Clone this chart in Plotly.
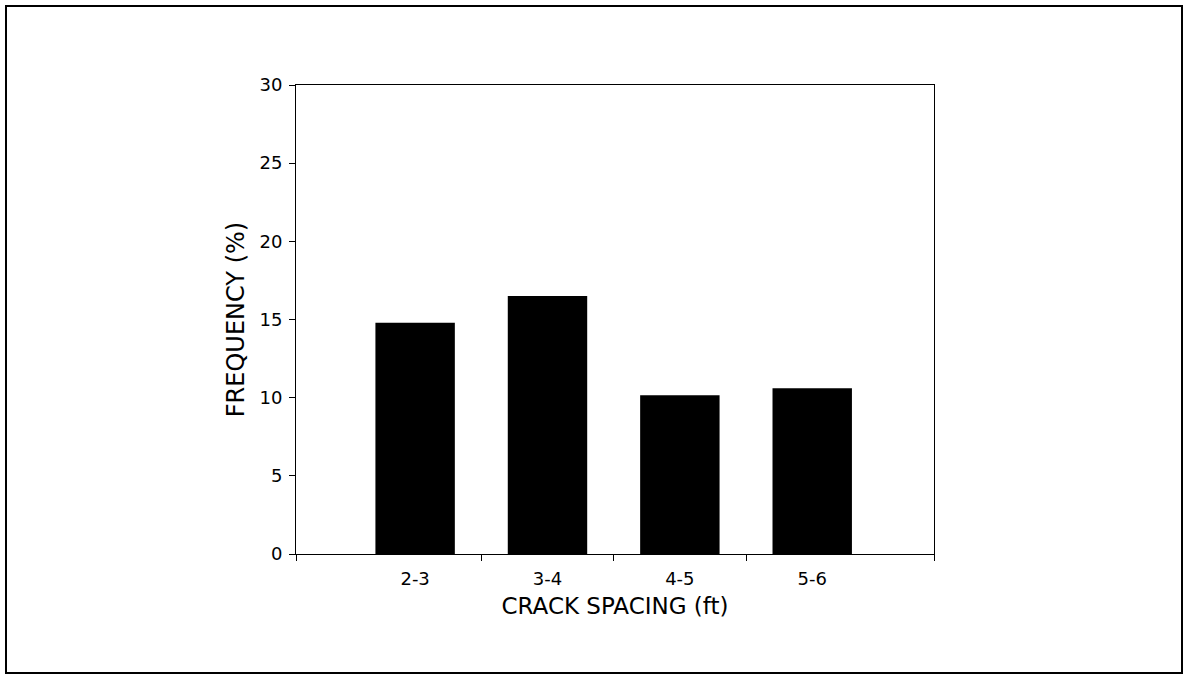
import plotly.graph_objects as go

# Datos
categorias = ["2-3", "3-4", "4-5", "5-6"]
frecuencia = [14.8, 16.5, 10.15, 10.6]
y_ticks = [0, 5, 10, 15, 20, 25, 30]

W, H = 1183, 675
L, R, T, B = 296, 934, 85, 554  # area del grafico en pixeles


def px_to_paper(x, y):
    return (x - L) / (R - L), (B - y) / (B - T)


def main():
    pos = list(range(len(categorias)))
    x_min, x_max = -0.9, 3.92
    bordes = [i + 0.5 for i in pos[:-1]]

    fig = go.Figure(
        go.Bar(
            x=pos,
            y=frecuencia,
            width=0.6,
            marker=dict(color="black", line=dict(color="black", width=0)),
        )
    )

    fig.update_layout(
        width=W,
        height=H,
        margin=dict(l=L, r=W - R, t=T, b=H - B, pad=0),
        paper_bgcolor="white",
        plot_bgcolor="white",
        showlegend=False,
        font=dict(family="DejaVu Sans, sans-serif", color="black", size=18),
    )

    fig.update_xaxes(
        range=[x_min, x_max],
        tickvals=pos,
        ticktext=categorias,
        ticks="",
        ticklabelstandoff=8,
        showgrid=False,
        zeroline=False,
        showline=True,
        linecolor="black",
        linewidth=1,
        mirror=True,
        tickfont=dict(size=18),
        minor=dict(
            tickvals=[x_min] + bordes + [x_max],
            ticks="outside",
            ticklen=6,
            tickcolor="black",
            showgrid=False,
        ),
        title=dict(text="CRACK SPACING (ft)", font=dict(size=23), standoff=10),
    )

    fig.update_yaxes(
        range=[0, 30],
        tickvals=y_ticks,
        ticks="outside",
        ticklen=6,
        tickcolor="black",
        ticklabelstandoff=3,
        showgrid=False,
        zeroline=False,
        showline=True,
        linecolor="black",
        linewidth=1,
        mirror=True,
        tickfont=dict(size=18),
        title=dict(text="FREQUENCY (%)", font=dict(size=24), standoff=8),
    )

    # Marco exterior
    x0, y0 = px_to_paper(6, 6)
    x1, y1 = px_to_paper(1182, 673)
    fig.add_shape(
        type="rect",
        xref="paper",
        yref="paper",
        x0=x0,
        y0=y1,
        x1=x1,
        y1=y0,
        line=dict(color="black", width=2),
        layer="above",
    )

    fig.write_html(
        "out.html",
        config={"displayModeBar": False},
        post_script="document.body.style.margin='0';",
    )


if __name__ == "__main__":
    main()
